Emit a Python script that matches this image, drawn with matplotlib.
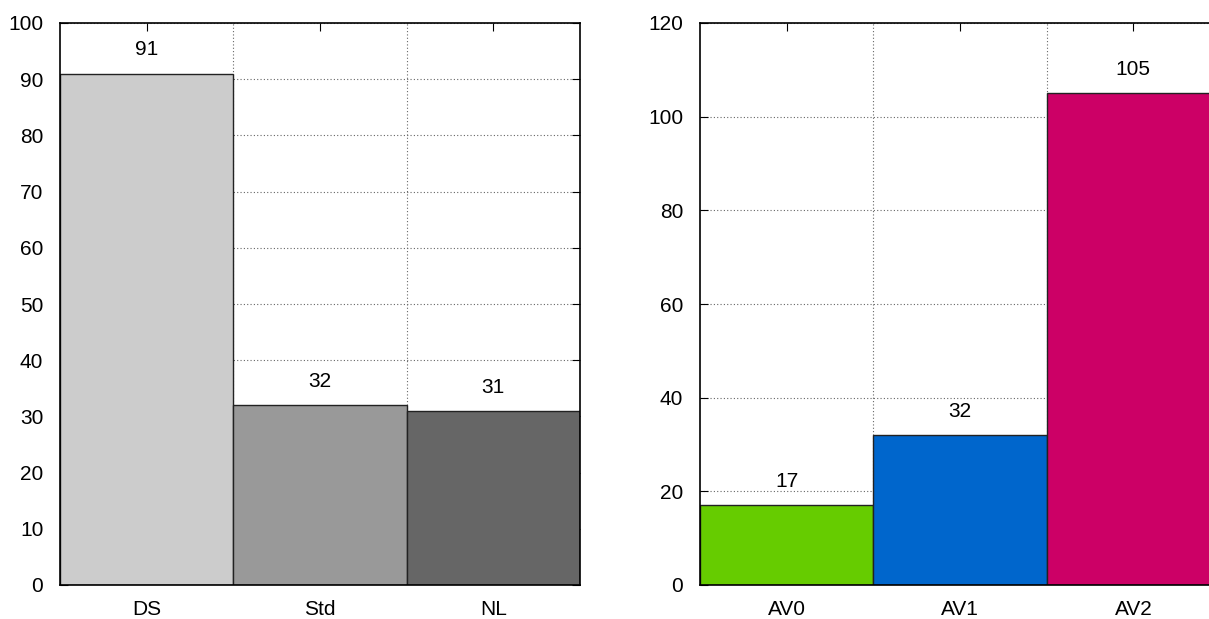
import matplotlib
matplotlib.use("Agg")
import matplotlib.pyplot as plt
from matplotlib.ticker import FixedLocator

plt.rcParams['font.family'] = ['Liberation Sans', 'DejaVu Sans']
plt.rcParams['font.size'] = 15

# left panel
left_cats = ["DS", "Std", "NL"]
left_vals = [91, 32, 31]
left_colors = ["#cccccc", "#999999", "#666666"]

# right panel
right_cats = ["AV0", "AV1", "AV2"]
right_vals = [17, 32, 105]
right_colors = ["#66cc00", "#0066cc", "#cc0066"]

fig = plt.figure(figsize=(12.09, 6.19), dpi=100)
ax1 = fig.add_axes([60/1209, 34/619, 520/1209, 562/619])
ax2 = fig.add_axes([700/1209, 34/619, 520/1209, 562/619])

def draw(ax, cats, vals, colors, ymax, ystep):
	x = range(len(cats))
	ax.bar(x, vals, width=1.0, color=colors, edgecolor="#222222", linewidth=1.0, zorder=2)
	for i, v in enumerate(vals):
		ax.annotate(str(v), (i, v), xytext=(0, 17), textcoords="offset points",
			ha="center", va="center", fontsize=15, zorder=3)
	ax.set_xlim(-0.5, len(cats) - 0.5)
	ax.set_ylim(0, ymax)
	ax.set_yticks(range(0, ymax + 1, ystep))
	ax.set_xticks(list(x))
	ax.set_xticklabels(cats)
	ax.xaxis.set_minor_locator(FixedLocator([i + 0.5 for i in range(len(cats) - 1)]))
	ax.grid(True, axis="y", which="major", linestyle=(0, (1, 2)), color="#666666", linewidth=0.8, zorder=1)
	ax.grid(True, axis="x", which="minor", linestyle=(0, (1, 2)), color="#666666", linewidth=0.8, zorder=1)
	ax.set_axisbelow(True)
	ax.tick_params(axis="x", which="major", direction="in", length=6, top=True, bottom=False, pad=11)
	ax.tick_params(axis="x", which="minor", length=0)
	ax.tick_params(axis="y", direction="in", length=6, left=True, right=True, pad=12)
	for s in ax.spines.values():
		s.set_linewidth(1.2)
		s.set_zorder(4)

draw(ax1, left_cats, left_vals, left_colors, 100, 10)
draw(ax2, right_cats, right_vals, right_colors, 120, 20)

fig.savefig("out.png", dpi=100)
